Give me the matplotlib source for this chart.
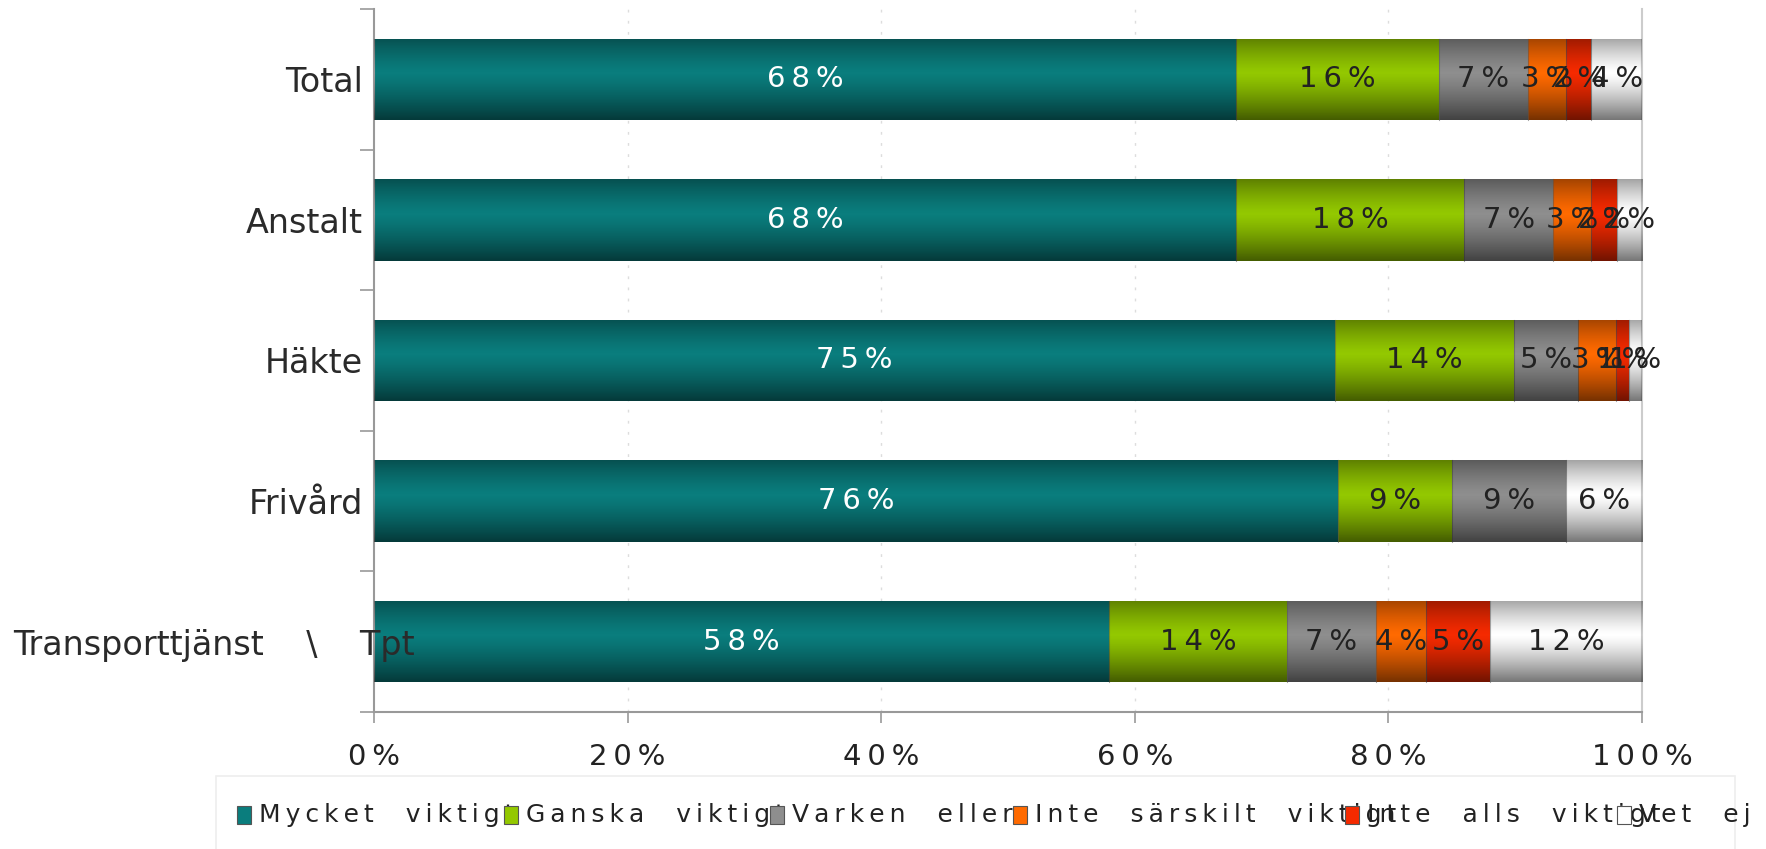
import numpy as np
import matplotlib
matplotlib.use("Agg")
import matplotlib.pyplot as plt
from matplotlib.patches import Rectangle
from matplotlib.transforms import ScaledTranslation

categories = ["Total", "Anstalt", "Häkte", "Frivård", "Transporttjänst \\ Tpt"]
series_names = ["Mycket viktigt", "Ganska viktigt", "Varken eller",
                "Inte särskilt viktigt", "Inte alls viktigt", "Vet ej"]
mycket = [68, 68, 75, 76, 58]
ganska = [16, 18, 14, 9, 14]
varken = [7, 7, 5, 9, 7]
inte_sarskilt = [3, 3, 3, 0, 4]
inte_alls = [2, 2, 1, 0, 5]
vet_ej = [4, 2, 1, 6, 12]
x_ticks = [0, 20, 40, 60, 80, 100]

series = [mycket, ganska, varken, inte_sarskilt, inte_alls, vet_ej]
colors = ["#0a7d7d", "#93c800", "#8e8e8e", "#ff6a00", "#f52a00", "#ffffff"]
label_colors = ["white", "#222222", "#222222", "#222222", "#222222", "#222222"]

def spaced(s):
    return "\u2009".join(s)

def spaced_words(s, gap="    "):
    return gap.join(spaced(w) for w in s.split(" "))

W, H = 1766, 849
fig = plt.figure(figsize=(W / 100, H / 100), dpi=100)
ax = fig.add_axes([374 / W, 1 - 712 / H, (1642 - 374) / W, (712 - 9) / H])

data = np.array(series, dtype=float)
totals = data.sum(axis=0)
shares = data / totals * 100
ypos = np.arange(len(categories))

# vertical shading profile (cylinder look)
prof = np.linspace(0, 1, 64)
alpha_prof = np.clip(0.62 * np.abs(prof - 0.42) / 0.58, 0, 1) ** 1.3
grad = np.zeros((64, 1, 4))
grad[:, 0, 3] = alpha_prof

left = np.zeros(len(categories))
for i, (vals, sh) in enumerate(zip(series, shares)):
    bars = ax.barh(ypos, sh, left=left, height=0.58, color=colors[i],
                   edgecolor="none", zorder=2)
    for b, v in zip(bars, vals):
        if v <= 0:
            continue
        x0, y0 = b.get_x(), b.get_y()
        w, h = b.get_width(), b.get_height()
        im = ax.imshow(grad, extent=(x0, x0 + w, y0 + h, y0), aspect="auto",
                       zorder=3, interpolation="bilinear")
        im.set_clip_path(b)
        ax.plot([x0 + w, x0 + w], [y0, y0 + h], color="#555555", lw=0.8,
                alpha=0.5, zorder=4)
        ax.text(x0 + w / 2, y0 + h / 2, spaced(f"{v}%"),
                ha="center", va="center", fontsize=21,
                color=label_colors[i], zorder=5)
    left += sh

ax.set_xlim(0, 100)
ax.set_ylim(len(categories) - 0.5, -0.5)
ax.set_xticks(x_ticks)
ax.set_xticklabels([spaced(f"{t}%") for t in x_ticks], fontsize=21, color="#222222")
ax.set_yticks(ypos)
ylabels = categories[:-1] + [categories[-1].replace(" \\ ", "    \\    ")]
ax.set_yticklabels(ylabels, fontsize=24, color="#2a2a2a")
ax.tick_params(axis="y", length=0, pad=8)
ax.yaxis.set_zorder(6)
# long last label starts near the left figure edge and runs into the bar
last = ax.get_yticklabels()[-1]
last.set_horizontalalignment("left")
last.set_transform(last.get_transform() + ScaledTranslation(-3.50, 0, fig.dpi_scale_trans))
ax.set_yticks(np.arange(-0.5, len(categories), 1), minor=True)
ax.tick_params(axis="y", which="minor", length=10, color="#999999", width=1.2)
ax.tick_params(axis="x", length=8, color="#999999", width=1.2, pad=14)
for x in x_ticks[1:-1]:
    ax.axvline(x, color="#dddddd", lw=1, ls=(0, (2, 6)), zorder=0)
for s in ["left", "bottom"]:
    ax.spines[s].set_color("#999999")
    ax.spines[s].set_linewidth(1.5)
ax.spines["right"].set_color("#cccccc")
ax.spines["right"].set_linewidth(1.5)
ax.spines["top"].set_visible(False)

# legend (fixed-width entries that overlap, as in the original)
fig.patches.append(Rectangle((216 / W, -0.01), (1735 - 216) / W, (849 - 776) / H + 0.01,
                             transform=fig.transFigure, facecolor="white",
                             edgecolor="#eeeeee", lw=1.2, zorder=1))
leg_x = [244, 511, 777, 1020, 1352, 1624]
leg_y = 1 - 815 / H
for c, name, lx in zip(colors, series_names, leg_x):
    fig.text((lx + 15) / W, leg_y, spaced_words(name), fontsize=18, color="#222222",
             va="center", ha="left", zorder=2)
    fig.patches.append(Rectangle(((lx - 7) / W, leg_y - 9 / H), 14 / W, 18 / H,
                                 transform=fig.transFigure, facecolor=c,
                                 edgecolor="#555555", lw=0.8, zorder=3))

fig.savefig("out.png", dpi=100)
